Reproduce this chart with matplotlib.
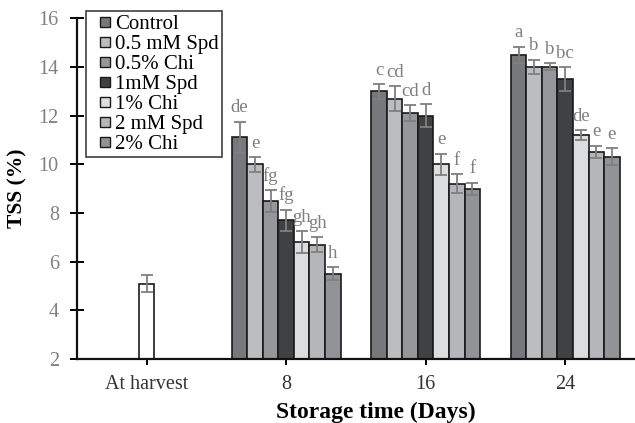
import matplotlib
matplotlib.use("Agg")
import matplotlib.pyplot as plt
from matplotlib.lines import Line2D
import numpy as np

groups = ["At harvest", "8", "16", "24"]
treatments = ["Control", "0.5 mM Spd", "0.5% Chi", "1mM Spd", "1% Chi", "2 mM Spd", "2% Chi"]
colors = ["#77787b", "#bcbdc0", "#96979a", "#404143", "#dcdddf", "#b5b6b9", "#929396"]

# values per treatment for storage days 8, 16, 24
values = {
    "Control":    [11.1, 13.0, 14.5],
    "0.5 mM Spd": [10.0, 12.7, 14.0],
    "0.5% Chi":   [8.5, 12.1, 14.0],
    "1mM Spd":    [7.7, 12.0, 13.5],
    "1% Chi":     [6.8, 10.0, 11.2],
    "2 mM Spd":   [6.7, 9.2, 10.5],
    "2% Chi":     [5.5, 9.0, 10.3],
}
errors = {
    "Control":    [0.65, 0.3, 0.33],
    "0.5 mM Spd": [0.3, 0.5, 0.3],
    "0.5% Chi":   [0.45, 0.33, 0.14],
    "1mM Spd":    [0.44, 0.48, 0.48],
    "1% Chi":     [0.45, 0.44, 0.2],
    "2 mM Spd":   [0.3, 0.4, 0.26],
    "2% Chi":     [0.27, 0.25, 0.35],
}
letters = {
    "Control":    ["de", "c", "a"],
    "0.5 mM Spd": ["e", "cd", "b"],
    "0.5% Chi":   ["fg", "cd", "b"],
    "1mM Spd":    ["fg", "d", "bc"],
    "1% Chi":     ["gh", "e", "de"],
    "2 mM Spd":   ["gh", "f", "e"],
    "2% Chi":     ["h", "f", "e"],
}
harvest_value = 5.1
harvest_err = 0.35

plt.rcParams["font.family"] = ["Liberation Serif", "DejaVu Serif"]

fig = plt.figure(figsize=(6.35, 4.23), dpi=100)
ax = fig.add_axes([0.121, 0.1513, 0.879, 0.8057])

n = len(treatments)
group_w = 0.78
bw = group_w / n
x = np.arange(len(groups))
base = 2

# at harvest: only the single initial measurement (white bar)
for i, t in enumerate(treatments):
    off = (i - (n - 1) / 2) * bw
    if i == 3:
        ax.bar(x[0] + off, harvest_value - base, bw, bottom=base, color="white",
               edgecolor="#1a1a1a", linewidth=1.2, zorder=2)
        ax.errorbar(x[0] + off, harvest_value, yerr=harvest_err, fmt="none",
                    ecolor="#7f7f7f", elinewidth=1.3, capsize=4.5, capthick=1.3, zorder=3)
    else:
        ax.bar(x[0] + off, 0, bw, bottom=base, color=colors[i],
               edgecolor="#1a1a1a", linewidth=1.0, zorder=2)

for i, t in enumerate(treatments):
    off = (i - (n - 1) / 2) * bw
    xs = x[1:] + off
    vals = np.array(values[t])
    errs = np.array(errors[t])
    ax.bar(xs, vals - base, bw, bottom=base, color=colors[i], edgecolor="#1a1a1a",
           linewidth=1.2, zorder=2)
    ax.errorbar(xs, vals, yerr=errs, fmt="none", ecolor="#7f7f7f",
                elinewidth=1.3, capsize=4.5, capthick=1.3, zorder=3)
    for xi, v, e, lab in zip(xs, vals, errs, letters[t]):
        ax.text(xi, v + e + 0.38, lab, ha="center", va="baseline",
                fontsize=13.5, color="#7f7f7f", zorder=4)

ax.set_xlim(-0.5, 3.5)
ax.set_ylim(2, 16)
ax.set_yticks(np.arange(2, 17, 2))
ax.set_xticks(x)
ax.set_xticklabels(groups)

for s in ["top", "right"]:
    ax.spines[s].set_visible(False)
for s in ["left", "bottom"]:
    ax.spines[s].set_linewidth(1.6)
    ax.spines[s].set_color("#111111")
ax.spines["bottom"].set_zorder(5)

ax.tick_params(axis="y", direction="inout", length=10, width=1.4, labelsize=14.5,
               labelcolor="#808080", pad=8)
ax.tick_params(axis="x", direction="inout", length=9, width=1.4, labelsize=14.5,
               labelcolor="#333333", pad=7)

ax.set_ylabel("TSS (%)", fontsize=15.5, fontweight="bold", labelpad=8)
ax.set_xlabel("Storage time (Days)", fontsize=17, fontweight="bold")
ax.xaxis.set_label_coords(0.536, -0.125)

handles = [Line2D([], [], linestyle="none", marker="s", markersize=7.5,
                  markerfacecolor=c, markeredgecolor="#1a1a1a", markeredgewidth=1.0)
           for c in colors]
leg = ax.legend(handles, treatments, loc="upper left", bbox_to_anchor=(0.016, 1.02),
                fontsize=15, frameon=True, fancybox=False, edgecolor="#111111",
                handlelength=1.58, handletextpad=-0.33, numpoints=1,
                labelspacing=0.02, borderpad=0.15, borderaxespad=0.0)
leg.get_frame().set_linewidth(1.2)

fig.savefig("out.png", dpi=100)
